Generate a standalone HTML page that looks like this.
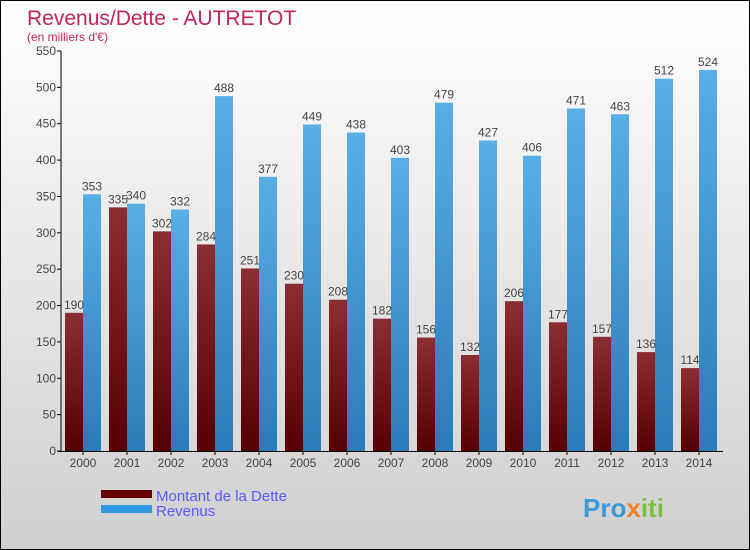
<!DOCTYPE html>
<html><head><meta charset="utf-8"><style>
body{margin:0}
#c{width:750px;height:550px;position:relative;box-sizing:border-box;border:1px solid #000;background:linear-gradient(#ffffff,#cfcfcf);font-family:"Liberation Sans",sans-serif;overflow:hidden}
svg text{font-family:"Liberation Sans",sans-serif}
</style></head><body>
<div id="c">
<svg id="s" width="750" height="550">
<defs>
<linearGradient id="gd" x1="0" y1="0" x2="0" y2="1"><stop offset="0" stop-color="#8a2e32"/><stop offset="1" stop-color="#560000"/></linearGradient>
<linearGradient id="gr" x1="0" y1="0" x2="0" y2="1"><stop offset="0" stop-color="#5aaee6"/><stop offset="1" stop-color="#2a7cb8"/></linearGradient>
</defs>
<text x="26" y="24" font-size="21" fill="#c4245a">Revenus/Dette - AUTRETOT</text>
<text x="26" y="40" font-size="12" fill="#c4245a">(en milliers d'€)</text>
<g id="axes"></g>
<g id="bars"></g>
<rect x="100" y="489" width="51" height="8" fill="#660000"/>
<rect x="100" y="504" width="51" height="8" fill="#2e9ae0"/>
<text x="155" y="500" font-size="15" fill="#5a5aff">Montant de la Dette</text>
<text x="155" y="515" font-size="15" fill="#5a5aff">Revenus</text>
<text x="582" y="516" font-size="26" font-weight="bold" fill="#3a9ad8">Pro<tspan fill="#f08020">x</tspan><tspan fill="#7cc040">iti</tspan></text>
</svg>
</div>
<script>
const years=["2000","2001","2002","2003","2004","2005","2006","2007","2008","2009","2010","2011","2012","2013","2014"];
const dette=[190,335,302,284,251,230,208,182,156,132,206,177,157,136,114];
const revenus=[353,340,332,488,377,449,438,403,479,427,406,471,463,512,524];
const ticks=[0,50,100,150,200,250,300,350,400,450,500,550];
const NS="http://www.w3.org/2000/svg";
const y=v=>450-v*400/550;
const gx=i=>64+i*44;
function mk(t,a,p){const e=document.createElementNS(NS,t);for(const k in a)e.setAttribute(k,a[k]);p.appendChild(e);return e;}
const ax=document.getElementById('axes'),bs=document.getElementById('bars');
let l=mk('line',{x1:60,y1:50,x2:60,y2:451,stroke:'#000'},ax);


l=mk('line',{x1:57,y1:450.5,x2:722,y2:450.5,stroke:'#000'},ax);


ticks.forEach(t=>{
 const tk=mk('line',{x1:56,x2:60,y1:y(t),y2:y(t),stroke:'#000'},ax);
 
 
 const tx=mk('text',{x:55,y:y(t)+4,'text-anchor':'end','font-size':12,fill:'#444'},ax);
 tx.textContent=t;
 
 
});
years.forEach((yr,i)=>{
 const x=gx(i);
 const tk=mk('line',{x1:x+18,x2:x+18,y1:450,y2:454,stroke:'#000'},ax);
 
 
 const tx=mk('text',{x:x+18,y:466,'text-anchor':'middle','font-size':12,fill:'#444'},ax);
 tx.textContent=yr;
 
 
 const b1=mk('rect',{x:x,y:y(dette[i]),width:18,height:450-y(dette[i]),fill:'url(#gd)'},bs);
 
 
 const b2=mk('rect',{x:x+18,y:y(revenus[i]),width:18,height:450-y(revenus[i]),fill:'url(#gr)'},bs);
 
 
 const t1=mk('text',{x:x+9,y:y(dette[i])-4,'text-anchor':'middle','font-size':12,fill:'#444'},bs);
 t1.textContent=dette[i];
 
 
 const t2=mk('text',{x:x+27,y:y(revenus[i])-4,'text-anchor':'middle','font-size':12,fill:'#444'},bs);
 t2.textContent=revenus[i];
 
 
});
</script>
</body></html>
